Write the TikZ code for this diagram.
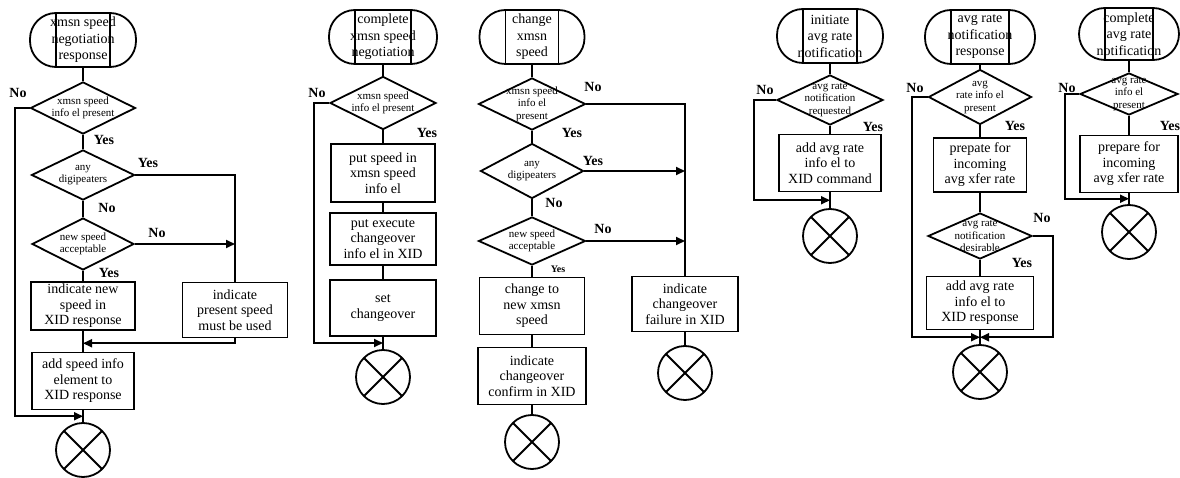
\documentclass[tikz,border=0pt]{standalone}
\usepackage{fontspec}
\setmainfont{Liberation Serif}
\usepackage{tikz}
\usetikzlibrary{arrows.meta}
\usetikzlibrary{shapes.geometric}
\usetikzlibrary{calc}

\tikzset{
    term/.style={draw, rounded corners=26pt, minimum width=106pt, minimum height=54pt, inner sep=0pt, align=center,
        font=\fontsize{14}{16.5}\selectfont,
        path picture={
            \draw ([xshift=26pt]path picture bounding box.north west) -- ([xshift=26pt]path picture bounding box.south west);
            \draw ([xshift=-26pt]path picture bounding box.north east) -- ([xshift=-26pt]path picture bounding box.south east);
        }},
    dec/.style={draw, diamond, inner sep=0pt, minimum width=104pt, minimum height=52pt},
    dectext/.style={align=center, inner sep=0pt, font=\fontsize{11}{12.5}\selectfont},
    stepbox/.style={draw, align=center, inner sep=2pt, font=\fontsize{14}{15.5}\selectfont},
    stop/.style={draw, circle, minimum size=54pt, inner sep=0pt,
        path picture={
            \draw (path picture bounding box.north west) -- (path picture bounding box.south east)
                  (path picture bounding box.north east) -- (path picture bounding box.south west);
        }},
    lbl/.style={font=\fontsize{14}{14}\selectfont\bfseries, inner sep=0pt},
    arr/.style={-{Triangle[length=9pt,width=8pt]}}
}

\begin{document}
\begin{tikzpicture}[x=1pt, y=-1pt, line width=1.8pt]
    \useasboundingbox (0,0) rectangle (1180,478);

    % chart 1
    \node[term] (t1) at (83,40) {xmsn speed\\negotiation\\response};
    \node[dec, minimum width=105pt, label={[dectext]center:{xmsn speed\\info el present}}] (d11) at (83,108) {};
    \node[dec, minimum width=103pt, minimum height=50pt, label={[dectext]center:{any\\digipeaters}}] (d12) at (83,175) {};
    \node[dec, minimum width=102pt, label={[dectext]center:{new speed\\acceptable}}] (d13) at (83,244) {};
    \node[stepbox, minimum width=104pt, minimum height=47pt] (b11) at (83,306) {indicate new\\speed in\\XID response};
    \node[stepbox, minimum width=105pt, minimum height=55pt] (b12) at (235,310) {indicate\\present speed\\must be used};
    \node[stepbox, minimum width=102pt, minimum height=57pt] (b13) at (83,381) {add speed info\\element to\\XID response};
    \node[stop] (c1) at (83,450) {};
    \coordinate (j11) at ($(b11.south)!0.6!(b13.north)$);
    \coordinate (j12) at ($(b13.south)!0.5!(c1.north)$);

    \node[lbl] (no11) at (18,93) {No};
    \node[lbl] (yes11) at (104,140) {Yes};
    \node[lbl] (yes12) at (148,163) {Yes};
    \node[lbl] (no12) at (107,208) {No};
    \node[lbl] (no13) at (157,233) {No};
    \node[lbl] (yes13) at (109,273) {Yes};

    \draw (t1) -- (d11);
    \draw[arr] (d11.west) -- ++(-15,0) |- (j12);
    \draw (d11) -- (d12);
    \draw (d12.east) -| (b12.north);
    \draw (d12) -- (d13);
    \draw[arr] (d13.east) -- (d13.east -| b12.north);
    \draw (d13) -- (b11);
    \draw (b11) -- (b13);
    \draw[arr] (b12.south) |- (j11);
    \draw (b13) -- (c1);

    % chart 2
    \node[term, minimum width=108pt] (t2) at (383,37) {complete\\xmsn speed\\negotiation};
    \node[dec, minimum width=106pt, minimum height=53pt, label={[dectext]center:{xmsn speed\\info el present}}] (d21) at (383,103) {};
    \node[stepbox, minimum width=104pt, minimum height=58pt] (b21) at (383,173) {put speed in\\xmsn speed\\info el};
    \node[stepbox, minimum width=106pt, minimum height=52pt] (b22) at (383,239) {put execute\\changeover\\info el in XID};
    \node[stepbox, minimum width=106pt, minimum height=56pt] (b23) at (383,308) {set\\changeover};
    \node[stop] (c2) at (383,377) {};
    \coordinate (j21) at ($(b23.south)!0.5!(c2.north)$);

    \node[lbl] (no21) at (317,93) {No};
    \node[lbl] (yes21) at (427,133) {Yes};

    \draw (t2) -- (d21);
    \draw[arr] (d21.west) -- ++(-15,0) |- (j21);
    \draw (d21) -- (b21);
    \draw (b21) -- (b22);
    \draw (b22) -- (b23);
    \draw (b23) -- (c2);

    % chart 3
    \node[term, minimum width=105pt] (t3) at (532,37) {change\\xmsn\\speed};
    \node[dec, minimum width=107pt, label={[dectext]center:{xmsn speed\\info el\\present}}] (d31) at (532,104) {};
    \node[dec, minimum width=103pt, minimum height=55pt, label={[dectext]center:{any\\digipeaters}}] (d32) at (532,171) {};
    \node[dec, minimum width=107pt, minimum height=48pt, label={[dectext]center:{new speed\\acceptable}}] (d33) at (532,241) {};
    \node[stepbox, minimum width=105pt, minimum height=57pt] (b31) at (532,306) {change to\\new xmsn\\speed};
    \node[stepbox, minimum width=108pt, minimum height=57pt] (b32) at (532,376) {indicate\\changeover\\confirm in XID};
    \node[stop] (c3) at (532,442) {};
    \node[stepbox, minimum width=106pt, minimum height=55pt] (b33) at (685,304) {indicate\\changeover\\failure in XID};
    \node[stop] (c4) at (685,373) {};

    \node[lbl] (no31) at (593,87) {No};
    \node[lbl] (yes31) at (572,133) {Yes};
    \node[lbl] (yes32) at (593,161) {Yes};
    \node[lbl] (no32) at (554,203) {No};
    \node[lbl] (no33) at (603,229) {No};
    \node[lbl, font=\fontsize{10}{10}\selectfont\bfseries] (yes33) at (558,269) {Yes};

    \draw (t3) -- (d31);
    \draw (d31.east) -| (b33.north);
    \draw (d31) -- (d32);
    \draw[arr] (d32.east) -- (d32.east -| b33.north);
    \draw (d32) -- (d33);
    \draw[arr] (d33.east) -- (d33.east -| b33.north);
    \draw (d33) -- (b31);
    \draw (b31) -- (b32);
    \draw (b32) -- (c3);
    \draw (b33) -- (c4);

    % chart 4
    \node[term] (t4) at (830,36) {initiate\\avg rate\\notification};
    \node[dec, minimum width=106pt, minimum height=50pt, label={[dectext]center:{avg rate\\notification\\requested}}] (d41) at (830,100) {};
    \node[stepbox, minimum width=102pt, minimum height=57pt] (b41) at (830,163) {add avg rate\\info el to\\XID command};
    \node[stop] (c5) at (830,236) {};
    \coordinate (j41) at ($(b41.south)!0.5!(c5.north)$);

    \node[lbl] (no41) at (765,90) {No};
    \node[lbl] (yes41) at (873,127) {Yes};

    \draw (t4) -- (d41);
    \draw[arr] (d41.west) -- ++(-22,0) |- (j41);
    \draw (d41) -- (b41);
    \draw (b41) -- (c5);

    % chart 5
    \node[term, minimum width=110pt] (t5) at (980,37) {avg rate\\notification\\response};
    \node[dec, minimum width=103pt, minimum height=55pt, label={[dectext]center:{avg\\rate info el\\present}}] (d51) at (980,97) {};
    \node[stepbox, minimum width=93pt, minimum height=54pt] (b51) at (980,165) {prepate for\\incoming\\avg xfer rate};
    \node[dec, minimum width=104pt, minimum height=46pt, label={[dectext]center:{avg rate\\notification\\desirable}}] (d52) at (980,236) {};
    \node[stepbox, minimum width=107pt, minimum height=53pt] (b52) at (980,303) {add avg rate\\info el to\\XID response};
    \node[stop] (c6) at (980,372) {};
    \coordinate (j51) at ($(b52.south)!0.5!(c6.north)$);

    \node[lbl] (no51) at (915,88) {No};
    \node[lbl] (yes51) at (1015,126) {Yes};
    \node[lbl] (no52) at (1042,218) {No};
    \node[lbl] (yes52) at (1022,263) {Yes};

    \draw (t5) -- (d51);
    \draw[arr] (d51.west) -- ++(-16,0) |- (j51);
    \draw (d51) -- (b51);
    \draw (b51) -- (d52);
    \draw (d52) -- (b52);
    \draw[arr] (d52.east) -- ++(20,0) |- (j51);
    \draw (b52) -- (c6);

    % chart 6
    \node[term, minimum width=100pt, minimum height=52pt] (t6) at (1129,34) {complete\\avg rate\\notification};
    \node[dec, minimum width=98pt, minimum height=42pt, label={[dectext]center:{avg rate\\info el\\present}}] (d61) at (1129,94) {};
    \node[stepbox, minimum width=98pt, minimum height=57pt] (b61) at (1129,164) {prepare for\\incoming\\avg xfer rate};
    \node[stop] (c7) at (1129,232) {};
    \coordinate (j61) at ($(b61.south)!0.5!(c7.north)$);

    \node[lbl] (no61) at (1067,88) {No};
    \node[lbl] (yes61) at (1170,126) {Yes};

    \draw (t6) -- (d61);
    \draw[arr] (d61.west) -- ++(-14,0) |- (j61);
    \draw (d61) -- (b61);
    \draw (b61) -- (c7);
\end{tikzpicture}
\end{document}
